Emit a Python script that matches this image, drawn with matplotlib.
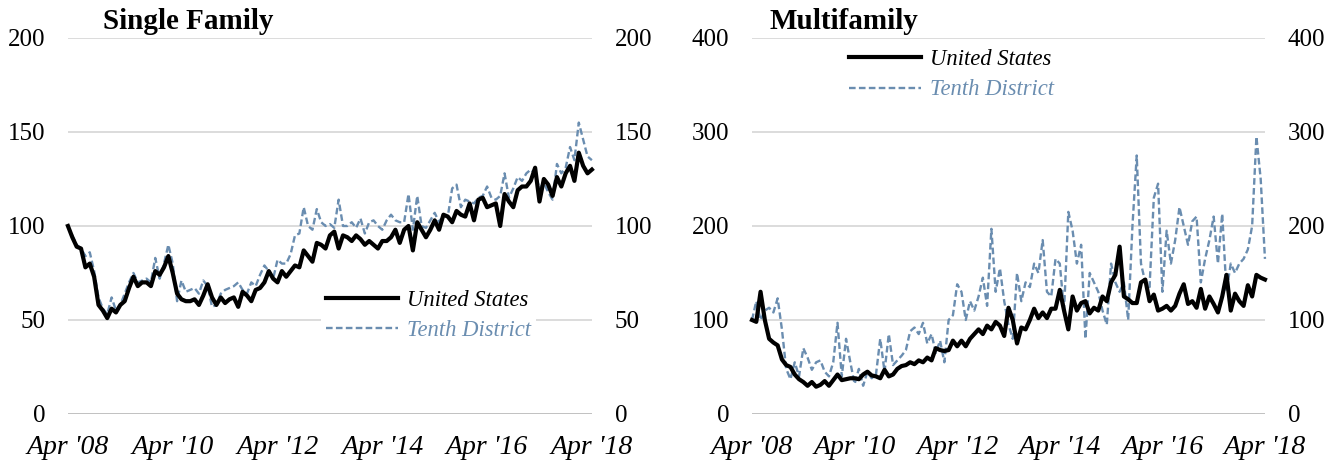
import numpy as np
import matplotlib
matplotlib.use("Agg")
import matplotlib.pyplot as plt

plt.rcParams['font.family'] = ['Liberation Serif', 'DejaVu Serif']

# monthly index, Apr 2008 .. Apr 2018
months = np.arange(121)
tick_pos = [0, 24, 48, 72, 96, 120]
tick_labels = ["Apr '08", "Apr '10", "Apr '12", "Apr '14", "Apr '16", "Apr '18"]

sf_us = [100, 94, 89, 88, 78, 80, 73, 58, 55, 51, 56, 54, 58, 60, 67, 73, 68, 70, 70, 68,
         76, 74, 78, 84, 75, 64, 61, 60, 60, 61, 58, 63, 69, 62, 58, 62, 59, 61, 62, 57,
         65, 63, 60, 66, 67, 70, 76, 72, 70, 76, 73, 76, 79, 78, 87, 84, 81, 91, 90, 88,
         95, 97, 88, 95, 94, 92, 95, 93, 90, 92, 90, 88, 92, 92, 94, 98, 91, 98, 100, 87,
         102, 98, 94, 98, 103, 98, 106, 105, 102, 108, 106, 105, 112, 103, 114, 115, 110, 111, 112, 100,
         117, 113, 110, 119, 121, 121, 124, 131, 113, 125, 122, 116, 126, 121, 128, 132, 124, 139, 132, 128,
         130]
sf_10th = [100, 95, 90, 88, 84, 86, 76, 62, 56, 53, 62, 55, 58, 64, 70, 75, 70, 71, 72, 70,
           83, 72, 80, 90, 80, 60, 71, 65, 66, 67, 64, 71, 68, 57, 58, 64, 66, 67, 68, 70,
           66, 64, 70, 68, 74, 79, 76, 72, 82, 80, 80, 85, 95, 96, 110, 100, 98, 109, 102, 100,
           101, 99, 114, 100, 100, 102, 99, 104, 96, 102, 103, 100, 98, 103, 106, 103, 102, 102, 117, 98,
           116, 100, 99, 103, 107, 102, 106, 105, 120, 122, 110, 114, 113, 112, 115, 116, 121, 115, 114, 116,
           128, 115, 120, 126, 124, 128, 130, 128, 120, 123, 118, 114, 133, 128, 131, 142, 135, 155, 146, 137,
           135]

mf_us = [100, 98, 130, 100, 80, 76, 73, 58, 52, 50, 42, 37, 34, 30, 34, 29, 31, 35, 30, 36,
         42, 36, 37, 38, 38, 37, 42, 45, 41, 40, 38, 47, 40, 42, 48, 51, 52, 55, 53, 57,
         55, 60, 57, 70, 68, 67, 68, 78, 72, 78, 72, 80, 85, 90, 85, 94, 90, 98, 94, 83,
         113, 100, 75, 92, 90, 100, 112, 102, 108, 102, 112, 112, 132, 110, 90, 125, 110, 118, 120, 107,
         113, 110, 125, 120, 140, 148, 178, 125, 122, 118, 118, 140, 143, 120, 127, 110, 112, 115, 110, 115,
         128, 138, 117, 120, 113, 133, 112, 125, 117, 108, 125, 148, 110, 128, 120, 115, 137, 125, 148, 145,
         143]
mf_10th = [100, 120, 100, 110, 113, 108, 123, 90, 48, 37, 55, 40, 70, 60, 47, 55, 57, 45, 40, 55,
           97, 40, 80, 55, 32, 48, 30, 45, 38, 42, 80, 45, 85, 52, 57, 62, 68, 88, 92, 85,
           97, 75, 85, 65, 78, 55, 100, 105, 138, 130, 100, 120, 110, 125, 145, 115, 197, 130, 155, 120,
           95, 80, 150, 120, 140, 135, 160, 150, 185, 130, 125, 165, 160, 110, 215, 195, 160, 180, 80, 150,
           140, 130, 110, 95, 160, 140, 130, 140, 100, 200, 275, 160, 140, 135, 230, 245, 130, 195, 160, 185,
           220, 200, 180, 205, 210, 140, 165, 185, 210, 160, 213, 130, 160, 150, 160, 165, 175, 200, 295, 250,
           165]

blue = '#6a8db0'
fig = plt.figure(figsize=(13.4, 4.61), dpi=100)
ax1 = fig.add_axes([0.0507, 0.102, 0.3910, 0.8156])
ax2 = fig.add_axes([0.5612, 0.102, 0.3828, 0.8156])


def style(ax, us, td, ymax, step, title, title_x, leg_anchor):
    ax.plot(months, us, color='black', lw=3.0, label='United States', zorder=3, clip_on=False)
    ax.plot(months, td, color=blue, lw=1.7, ls=(0, (2.8, 1.4)), label='Tenth District',
            zorder=2, clip_on=False)
    ax.set_xlim(0, 120)
    ax.set_ylim(0, ymax)
    ax.set_yticks(np.arange(0, ymax + 1, step))
    ax.set_xticks(tick_pos)
    ax.set_xticklabels(tick_labels, style='italic', fontsize=20)
    for s in ax.spines.values():
        s.set_visible(False)
    ax.grid(axis='y', color='#d9d9d9', lw=1.3, zorder=0)
    ax.axhline(0, color='#bfbfbf', lw=2, zorder=1)
    ax.tick_params(axis='y', length=0, labelsize=18, labelright=True, pad=16.5)
    ax.tick_params(axis='x', length=0, pad=15)
    ax.set_axisbelow(True)
    leg = ax.legend(loc='upper left', bbox_to_anchor=leg_anchor, frameon=True, fontsize=16.3,
                    handlelength=3.2, labelspacing=0.42, borderpad=0.2, handletextpad=0.4)
    leg.get_frame().set_edgecolor('none')
    leg.get_frame().set_facecolor('white')
    leg.get_frame().set_alpha(1)
    for txt, c in zip(leg.get_texts(), ['black', blue]):
        txt.set_color(c)
        txt.set_style('italic')
    ax.text(title_x, 1.025, title, transform=ax.transAxes, fontsize=21, fontweight='bold',
            va='baseline', ha='left')


style(ax1, sf_us, sf_10th, 200, 50, 'Single Family', 0.067, (0.462, 0.373))
style(ax2, mf_us, mf_10th, 400, 100, 'Multifamily', 0.035, (0.158, 1.013))

fig.savefig('out.png', dpi=100)
